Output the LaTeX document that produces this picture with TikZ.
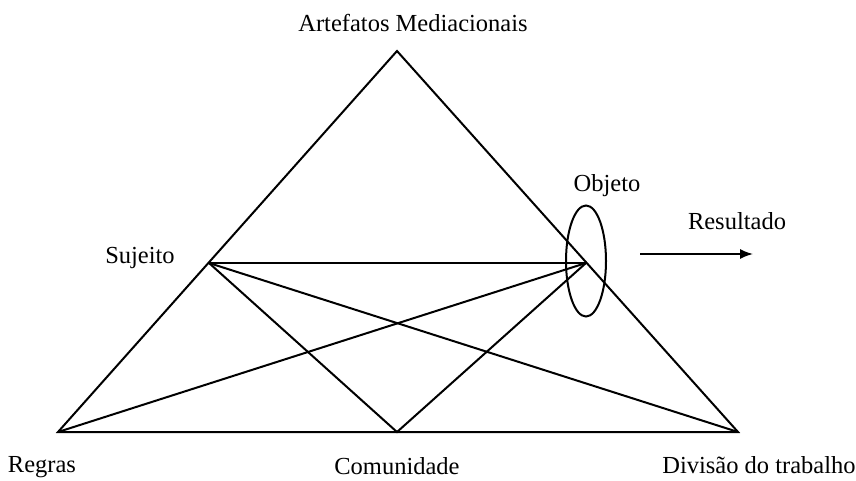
\documentclass[tikz,border=0pt]{standalone}
\usepackage{fontspec}
\setmainfont{Liberation Serif}
\usetikzlibrary{shapes.geometric, arrows.meta}
\begin{document}
\begin{tikzpicture}[>=latex, x=1pt, y=-1pt, line width=2pt,
    rotulo/.style={font=\fontsize{24.5}{28}\selectfont, inner sep=0pt}]
    \useasboundingbox (0,0) rectangle (856,481);
    % Vértices do triângulo
    \coordinate (A) at (397,51);
    \coordinate (R) at (58,432);
    \coordinate (C) at (397,432);
    \coordinate (D) at (738,432);
    \coordinate (S) at (209,263);
    \coordinate (O) at (586,263);

    % Triângulo e ligações internas
    \draw (A) -- (R) -- (D) -- cycle;
    \draw (S) -- (O);
    \draw (S) -- (C) -- (O);
    \draw (S) -- (D);
    \draw (R) -- (O);

    % Objeto e resultado
    \node[draw, ellipse, minimum width=40, minimum height=111, inner sep=0pt] (elipse) at (586,261) {};
    \coordinate (r1) at (640,254);
    \coordinate (r2) at (753,254);
    \draw[-{Latex[length=13pt,width=10pt]}, line width=1.6pt] (r1) -- (r2);

    % Rótulos
    \node[rotulo] (artefatos) at (413,23) {Artefatos Mediacionais};
    \node[rotulo] (objeto) at (607,186) {Objeto};
    \node[rotulo] (resultado) at (737,221) {Resultado};
    \node[rotulo] (sujeito) at (140,258) {Sujeito};
    \node[rotulo] (regras) at (42,467) {Regras};
    \node[rotulo] (comunidade) at (397,466) {Comunidade};
    \node[rotulo] (divisao) at (759,465) {Divisão do trabalho};
\end{tikzpicture}
\end{document}
